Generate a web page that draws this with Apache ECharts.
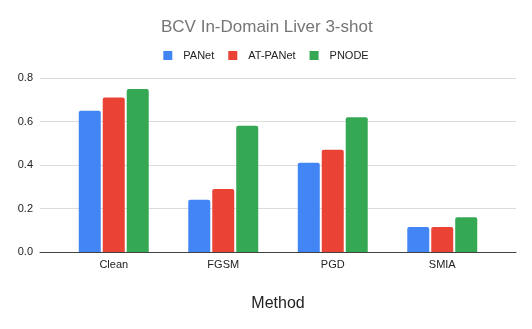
<!DOCTYPE html>
<html>
<head>
<meta charset="utf-8">
<script src="https://cdn.jsdelivr.net/npm/echarts@6/dist/echarts.min.js"></script>
<style>html,body{margin:0;padding:0;background:#fff;}#c{width:532px;height:329px;}</style>
</head>
<body>
<div id="c"></div>
<script>
const categories = ['Clean', 'FGSM', 'PGD', 'SMIA'];
const panet = [0.65, 0.24, 0.41, 0.115];
const atPanet = [0.71, 0.29, 0.47, 0.115];
const pnode = [0.75, 0.58, 0.62, 0.16];
const seriesNames = ['PANet', 'AT-PANet', 'PNODE'];
const yTicks = [0, 0.2, 0.4, 0.6, 0.8];

const FONT = '"Liberation Sans", Arial, sans-serif';
const colors = ['#4285F4', '#EA4335', '#34A853'];
const chart = echarts.init(document.getElementById('c'), null, {renderer: 'canvas'});
const yMin = yTicks[0], yMax = yTicks[yTicks.length - 1], yStep = yTicks[1] - yTicks[0];

function bar(name, data, i) {
  return {
    name: name, type: 'bar', data: data,
    xAxisIndex: 1, yAxisIndex: 1,
    barWidth: 22, barGap: '9%',
    itemStyle: {color: colors[i], borderRadius: [2, 2, 0, 0]},
    emphasis: {disabled: true}
  };
}

chart.setOption({
  animation: false,
  backgroundColor: '#ffffff',
  color: colors,
  title: {
    text: 'BCV In-Domain Liver 3-shot',
    left: 156, top: 14,
    textStyle: {fontFamily: FONT, fontSize: 17, fontWeight: 'normal', color: '#757575'}
  },
  legend: {
    data: seriesNames,
    left: 'center', top: 45,
    itemWidth: 9, itemHeight: 9, itemGap: 14,
    icon: 'rect',
    textStyle: {fontFamily: FONT, fontSize: 11, color: '#222', padding: [0, 0, 0, 6]}
  },
  grid: [
    {left: 40, right: 16, top: 78, bottom: 77},
    {left: 59, right: 35, top: 78, bottom: 77}
  ],
  xAxis: [
    {
      gridIndex: 0, type: 'category', data: categories,
      axisLine: {show: true, lineStyle: {color: '#444', width: 1}},
      axisTick: {show: false}, axisLabel: {show: false}, splitLine: {show: false},
      name: 'Method', nameLocation: 'middle', nameGap: 44,
      nameTextStyle: {fontFamily: FONT, fontSize: 16, color: '#222'}
    },
    {
      gridIndex: 1, type: 'category', data: categories,
      axisLine: {show: false}, axisTick: {show: false},
      axisLabel: {fontFamily: FONT, fontSize: 11, color: '#222', margin: 7}
    }
  ],
  yAxis: [
    {
      gridIndex: 0, type: 'value', min: yMin, max: yMax, interval: yStep,
      axisLine: {show: false}, axisTick: {show: false},
      axisLabel: {fontFamily: FONT, fontSize: 11, color: '#222', margin: 7,
        formatter: v => v.toFixed(1)},
      splitLine: {lineStyle: {color: '#dcdcdc', width: 1}}
    },
    {
      gridIndex: 1, type: 'value', min: yMin, max: yMax, interval: yStep,
      show: false, splitLine: {show: false}
    }
  ],
  series: [
    bar(seriesNames[0], panet, 0),
    bar(seriesNames[1], atPanet, 1),
    bar(seriesNames[2], pnode, 2)
  ]
});
</script>
</body>
</html>
